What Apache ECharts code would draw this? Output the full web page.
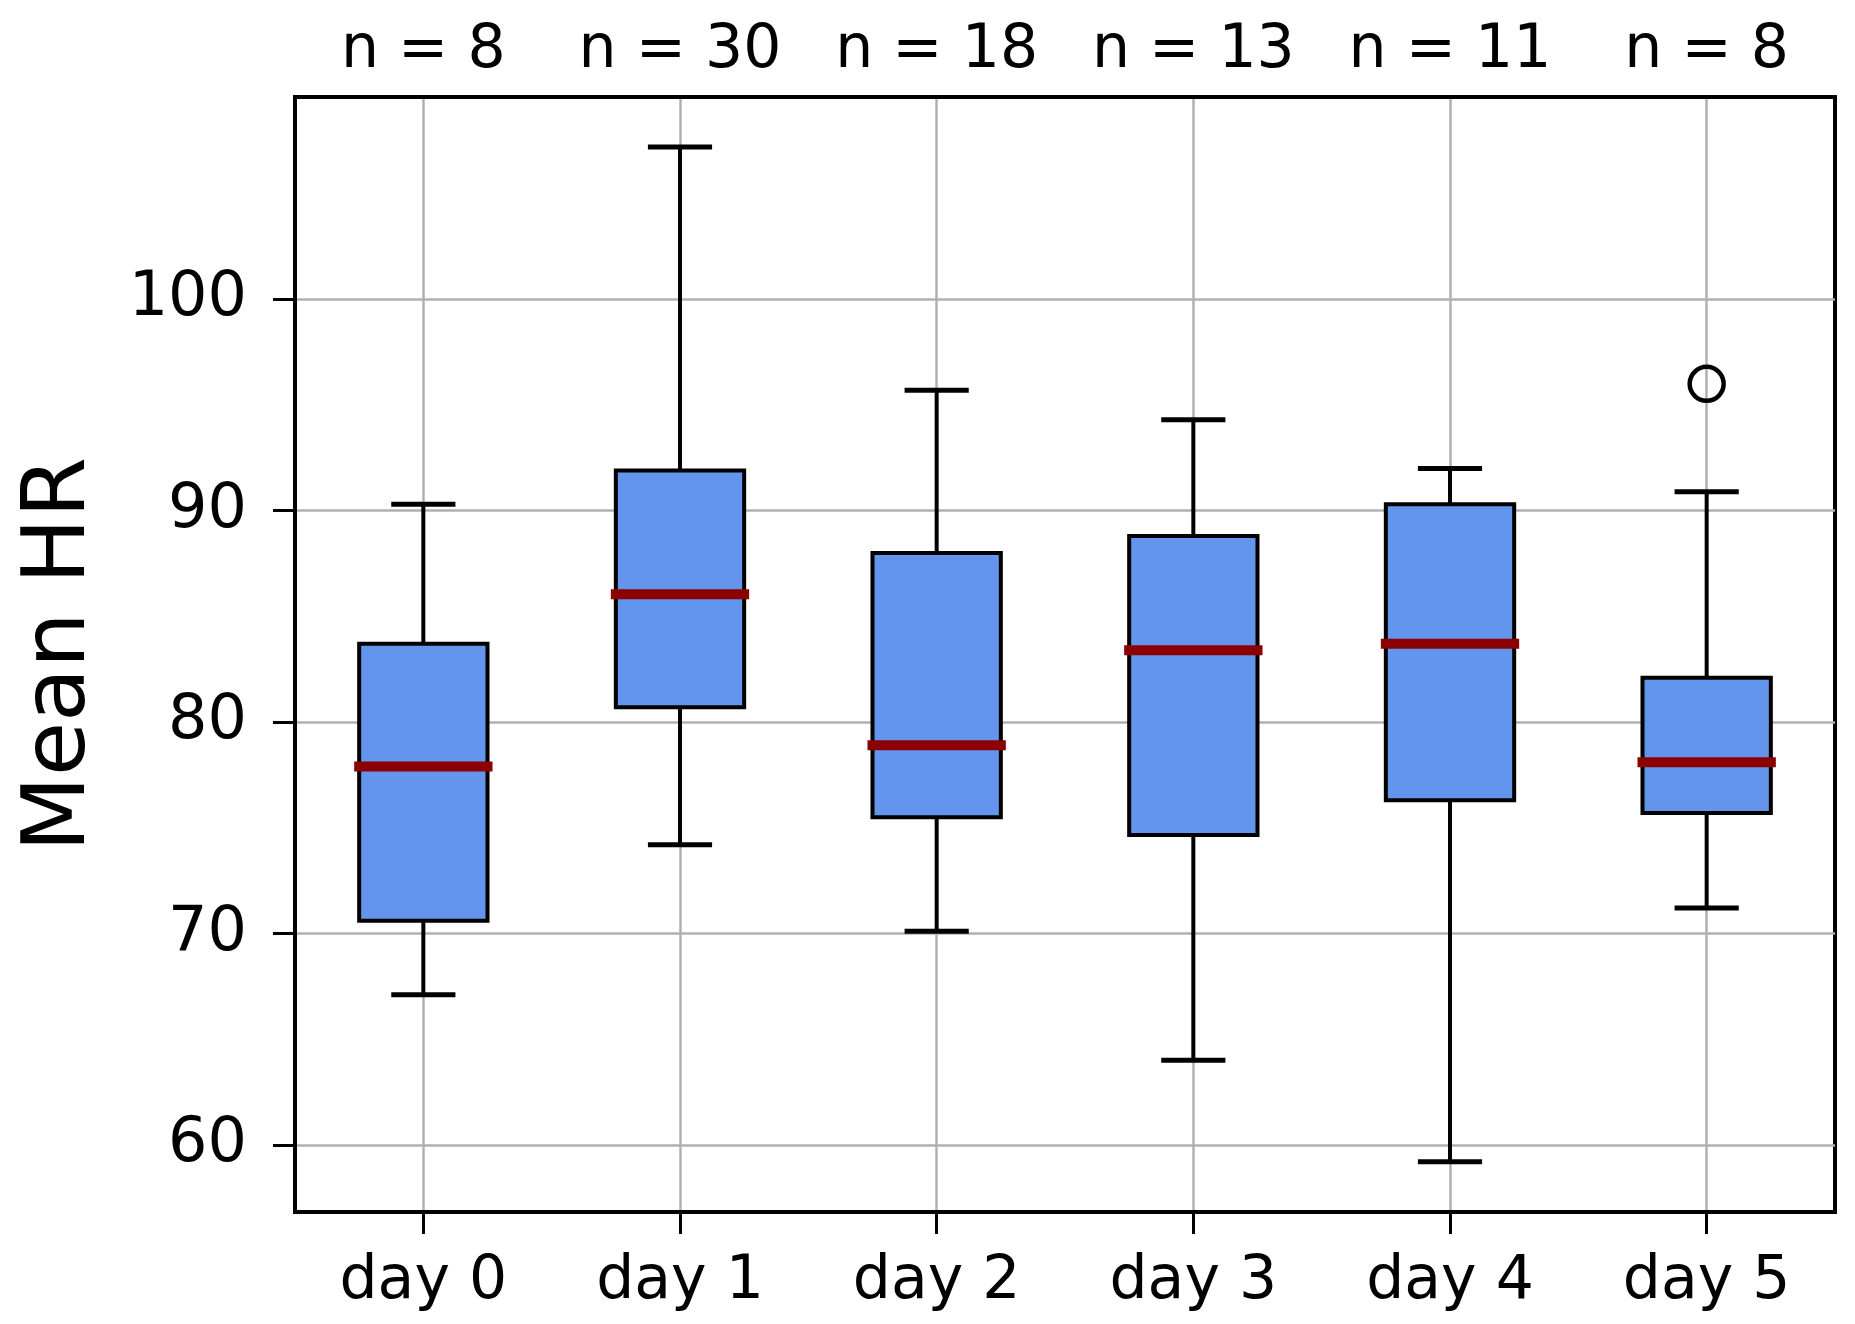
<!DOCTYPE html>
<html>
<head>
<meta charset="utf-8">
<script src="https://cdn.jsdelivr.net/npm/echarts@6/dist/echarts.min.js"></script>
<style>
html,body{margin:0;padding:0;background:#fff;}
#chart{width:1855px;height:1324px;}
</style>
</head>
<body>
<div id="chart"></div>
<script>
const categories = ['day 0', 'day 1', 'day 2', 'day 3', 'day 4', 'day 5'];
const nLabels = ['n = 8', 'n = 30', 'n = 18', 'n = 13', 'n = 11', 'n = 8'];
const whiskerLow = [67.1, 74.2, 70.1, 64.0, 59.2, 71.2];
const q1 = [70.6, 80.7, 75.5, 74.65, 76.3, 75.7];
const median = [77.9, 86.05, 78.9, 83.4, 83.7, 78.1];
const q3 = [83.7, 91.9, 88.0, 88.8, 90.3, 82.1];
const whiskerHigh = [90.3, 107.2, 95.7, 94.3, 92.0, 90.9];
const outliers = [[5, 96.0]];
const yTicks = [60, 70, 80, 90, 100];

const FONT = 'DejaVu Sans';
const boxData = categories.map((c, i) => [i, whiskerLow[i], q1[i], median[i], q3[i], whiskerHigh[i]]);

const chart = echarts.init(document.getElementById('chart'), null, {renderer: 'canvas'});
chart.setOption({
  animation: false,
  backgroundColor: '#fff',
  grid: {left: 295, right: 20, top: 97, bottom: 112, show: true, borderColor: '#000', borderWidth: 4, backgroundColor: 'transparent'},
  xAxis: [{
    type: 'category',
    data: categories,
    position: 'bottom',
    boundaryGap: true,
    axisLine: {show: true, lineStyle: {color: '#000', width: 4}},
    axisTick: {show: true, alignWithLabel: true, length: 22, inside: false, lineStyle: {color: '#000', width: 3}},
    axisLabel: {fontFamily: FONT, fontSize: 60, color: '#000', margin: 40, interval: 0},
    splitLine: {show: true, alignWithLabel: true, lineStyle: {color: '#b0b0b0', width: 2.5}}
  }, {
    type: 'category',
    data: nLabels,
    position: 'top',
    boundaryGap: true,
    axisLine: {show: true, lineStyle: {color: '#000', width: 4}},
    axisTick: {show: false},
    axisLabel: {fontFamily: FONT, fontSize: 60, color: '#000', margin: 16, interval: 0},
    splitLine: {show: false}
  }],
  yAxis: {
    type: 'value',
    min: 56.82,
    max: 109.57,
    minInterval: 10,
    maxInterval: 10,
    splitNumber: 5,
    name: 'Mean HR',
    nameLocation: 'middle',
    nameGap: 190,
    nameTextStyle: {fontFamily: FONT, fontSize: 88, color: '#000'},
    axisLine: {show: true, lineStyle: {color: '#000', width: 4}},
    axisTick: {show: true, length: 22, lineStyle: {color: '#000', width: 3}},
    axisLabel: {
      fontFamily: FONT, fontSize: 62, color: '#000', margin: 48,
      showMinLabel: false, showMaxLabel: false,
      formatter: v => (yTicks.indexOf(Math.round(v * 100) / 100) >= 0 ? String(v) : '')
    },
    splitLine: {show: true, showMinLine: false, showMaxLine: false, lineStyle: {color: '#b0b0b0', width: 2.5}}
  },
  series: [{
    type: 'custom',
    xAxisIndex: 0,
    data: boxData,
    renderItem: function (params, api) {
      const x = api.value(0);
      const pLo = api.coord([x, api.value(1)]);
      const pQ1 = api.coord([x, api.value(2)]);
      const pMd = api.coord([x, api.value(3)]);
      const pQ3 = api.coord([x, api.value(4)]);
      const pHi = api.coord([x, api.value(5)]);
      const band = api.size([1, 0])[0];
      const bw = band * 0.5;
      const cw = bw * 0.5;
      const cx = pMd[0];
      const lineStyle = {stroke: '#000', lineWidth: 4};
      return {
        type: 'group',
        children: [
          {type: 'line', shape: {x1: cx, y1: pQ3[1], x2: cx, y2: pHi[1]}, style: lineStyle},
          {type: 'line', shape: {x1: cx, y1: pQ1[1], x2: cx, y2: pLo[1]}, style: lineStyle},
          {type: 'line', shape: {x1: cx - cw / 2, y1: pHi[1], x2: cx + cw / 2, y2: pHi[1]}, style: {stroke: '#000', lineWidth: 5}},
          {type: 'line', shape: {x1: cx - cw / 2, y1: pLo[1], x2: cx + cw / 2, y2: pLo[1]}, style: {stroke: '#000', lineWidth: 5}},
          {type: 'rect', shape: {x: cx - bw / 2, y: pQ3[1], width: bw, height: pQ1[1] - pQ3[1]},
           style: {fill: '#6495ED', stroke: '#000', lineWidth: 4}},
          {type: 'line', shape: {x1: cx - bw / 2, y1: pMd[1], x2: cx + bw / 2, y2: pMd[1]},
           style: {stroke: '#8B0000', lineWidth: 10, lineCap: 'square'}}
        ]
      };
    },
    z: 5
  }, {
    type: 'scatter',
    xAxisIndex: 0,
    data: outliers,
    symbol: 'circle',
    symbolSize: 34,
    itemStyle: {color: 'rgba(255,255,255,0)', borderColor: '#000', borderWidth: 4.5, opacity: 1},
    z: 6
  }]
});
</script>
</body>
</html>
